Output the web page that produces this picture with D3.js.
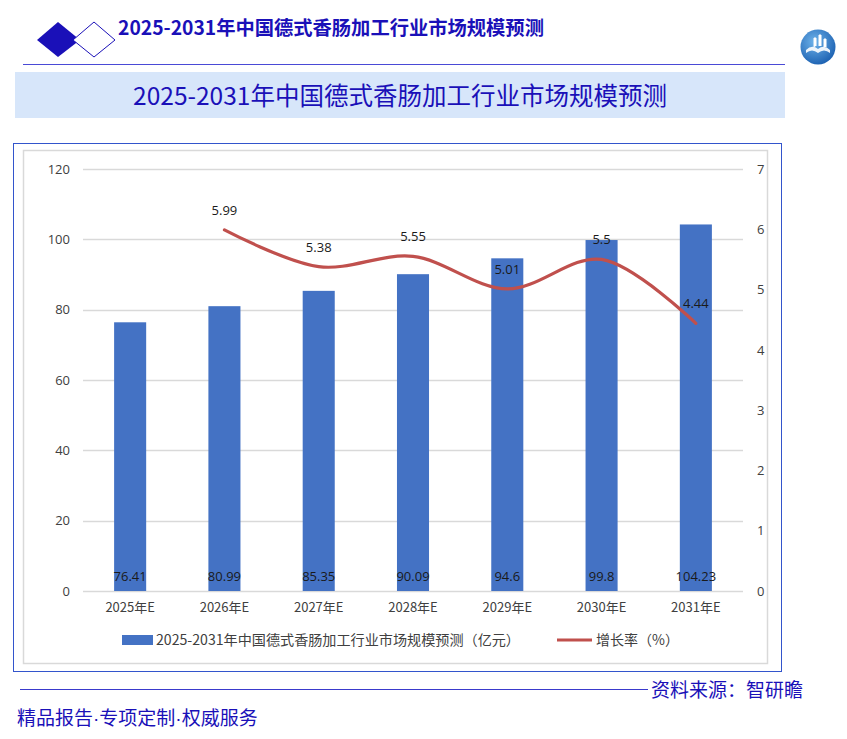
<!DOCTYPE html>
<html><head><meta charset="utf-8">
<script src="https://cdn.jsdelivr.net/npm/d3@7"></script>
<style>body{margin:0;background:#fff;}svg{display:block;font-family:"Noto Sans CJK SC","Noto Sans",sans-serif;}</style>
</head><body>
<svg id="c" width="847" height="739"></svg>
<script>
const title = "2025-2031年中国德式香肠加工行业市场规模预测";
const categories = ["2025年E","2026年E","2027年E","2028年E","2029年E","2030年E","2031年E"];
const marketSize = [76.41,80.99,85.35,90.09,94.6,99.8,104.23];
const growthRate = [null,5.99,5.38,5.55,5.01,5.5,4.44];
const leftTicks = [0,20,40,60,80,100,120];
const rightTicks = [0,1,2,3,4,5,6,7];
const legendBar = "2025-2031年中国德式香肠加工行业市场规模预测（亿元）";
const legendLine = "增长率（%）";
const source = "资料来源：智研瞻";
const sloganParts = ["精品报告","专项定制","权威服务"];

const svg = d3.select("#c");
const navy = "#1a10b8";

// header
svg.append("path").attr("d","M37,40 L58,22 L80,40 L58,57 Z").attr("fill","#1a10b8");
svg.append("path").attr("d","M73,40 L94,22 L115,40 L94,57 Z").attr("fill","#fff").attr("stroke","#1a10b8").attr("stroke-width",1);
svg.append("text").attr("x",118).attr("y",35).attr("font-size",19.3).attr("font-weight","bold").attr("fill",navy).text(title);
svg.append("line").attr("x1",23).attr("x2",785).attr("y1",64.5).attr("y2",64.5).attr("stroke","#4a4ad6").attr("stroke-width",1.2);
// logo
const grad = svg.append("defs").append("radialGradient").attr("id","lg").attr("cx","40%").attr("cy","35%").attr("r","70%");
grad.append("stop").attr("offset","0%").attr("stop-color","#6fb3ea");
grad.append("stop").attr("offset","100%").attr("stop-color","#1a5fb0");
svg.append("circle").attr("cx",818).attr("cy",47).attr("r",17.5).attr("fill","url(#lg)");
svg.append("path").attr("d","M806,50 Q812,44 818,49 Q824,44 830,50 L830,53 Q824,48 818,53 Q812,48 806,53 Z").attr("fill","#fff").attr("opacity",0.9);
svg.append("path").attr("d","M814,47 L814,38 L816,38 L816,46 M819,46 L819,35 L821,35 L821,46 M824,47 L824,39 L826,39 L826,47").attr("fill","#fff").attr("stroke","#fff").attr("stroke-width",1);
// banner
svg.append("rect").attr("x",15).attr("y",72).attr("width",770).attr("height",46).attr("fill","#d7e6fa");
svg.append("text").attr("x",400).attr("y",105).attr("text-anchor","middle").attr("font-size",24.5).attr("fill",navy).text(title);

// chart frame
svg.append("rect").attr("x",13.5).attr("y",143.5).attr("width",768).attr("height",528).attr("fill","#fff").attr("stroke","#3355cc").attr("stroke-width",1);
svg.append("rect").attr("x",23.5).attr("y",150.5).attr("width",744).attr("height",513).attr("fill","#fff").attr("stroke","#d9d9d9").attr("stroke-width",1.5);

const x = d3.scaleBand().domain(categories).range([83,743]).paddingInner(0.66).paddingOuter(0.33);
const y = d3.scaleLinear().domain([0,120]).range([591,169]);
const y2 = d3.scaleLinear().domain([0,7]).range([591,169]);
const numFont = "'Open Sans','DejaVu Sans',sans-serif";

// gridlines
svg.append("g").selectAll("line").data(leftTicks).join("line")
  .attr("x1",83).attr("x2",743).attr("y1",d=>Math.round(y(d))+0.5).attr("y2",d=>Math.round(y(d))+0.5)
  .attr("stroke","#d9d9d9").attr("stroke-width",1.3);

// left axis
const ax = svg.append("g").attr("transform","translate(83,0)").call(d3.axisLeft(y).tickValues(leftTicks).tickSize(0).tickPadding(13));
ax.select(".domain").remove();
ax.selectAll("text").attr("font-size",13).attr("fill","#404040").attr("font-family",numFont);
// right axis
const ax2 = svg.append("g").attr("transform","translate(743,0)").call(d3.axisRight(y2).tickValues(rightTicks).tickFormat(d3.format("d")).tickSize(0).tickPadding(14));
ax2.select(".domain").remove();
ax2.selectAll("text").attr("font-size",13).attr("fill","#404040").attr("font-family",numFont);
// bottom axis
const bx = svg.append("g").attr("transform","translate(0,591)").call(d3.axisBottom(x).tickSize(0).tickPadding(12));
bx.select(".domain").remove();
bx.selectAll("text").attr("font-size",13).attr("fill","#404040").attr("font-family","'Noto Sans CJK SC',sans-serif");

// bars
svg.append("g").selectAll("rect").data(marketSize).join("rect")
  .attr("x",(d,i)=>x(categories[i])).attr("width",x.bandwidth())
  .attr("y",d=>y(d)).attr("height",d=>y(0)-y(d)).attr("fill","#4472c4");
svg.append("g").selectAll("text").data(marketSize).join("text")
  .attr("x",(d,i)=>x(categories[i])+x.bandwidth()/2).attr("y",581).attr("text-anchor","middle")
  .attr("font-size",13).attr("fill","#1a1a1a").attr("font-family",numFont).text(d=>d);

// line
const pts = growthRate.map((v,i)=>({v,c:categories[i]})).filter(d=>d.v!==null);
const line = d3.line().x(d=>x(d.c)+x.bandwidth()/2).y(d=>y2(d.v)).curve(d3.curveCatmullRom.alpha(0.5));
svg.append("path").datum(pts).attr("d",line).attr("fill","none").attr("stroke","#c0504d").attr("stroke-width",3.2).attr("stroke-linecap","round");
svg.append("g").selectAll("text").data(pts).join("text")
  .attr("x",d=>x(d.c)+x.bandwidth()/2).attr("y",d=>y2(d.v)-15).attr("text-anchor","middle")
  .attr("font-size",13).attr("fill","#1a1a1a").attr("font-family",numFont).text(d=>d.v);

// legend
svg.append("rect").attr("x",122).attr("y",635).attr("width",31).attr("height",10).attr("fill","#4472c4");
svg.append("text").attr("x",156).attr("y",645).attr("font-size",14).attr("fill","#404040").attr("textLength",364).attr("lengthAdjust","spacingAndGlyphs").text(legendBar);
svg.append("line").attr("x1",557).attr("x2",592).attr("y1",640).attr("y2",640).attr("stroke","#c0504d").attr("stroke-width",3.2);
svg.append("text").attr("x",596).attr("y",645).attr("font-size",14).attr("fill","#404040").text(legendLine);

// footer
svg.append("line").attr("x1",20).attr("x2",648).attr("y1",689.5).attr("y2",689.5).attr("stroke","#3a3acc").attr("stroke-width",1.2);
svg.append("text").attr("x",803).attr("y",697).attr("text-anchor","end").attr("font-size",19).attr("fill",navy).text(source);
const sl = svg.append("text").attr("x",17).attr("y",725).attr("font-size",19).attr("fill",navy);
sloganParts.forEach((p,i)=>{
  if(i>0) sl.append("tspan").attr("font-family","'Liberation Sans',sans-serif").text("·");
  sl.append("tspan").text(p);
});
</script>
</body></html>
